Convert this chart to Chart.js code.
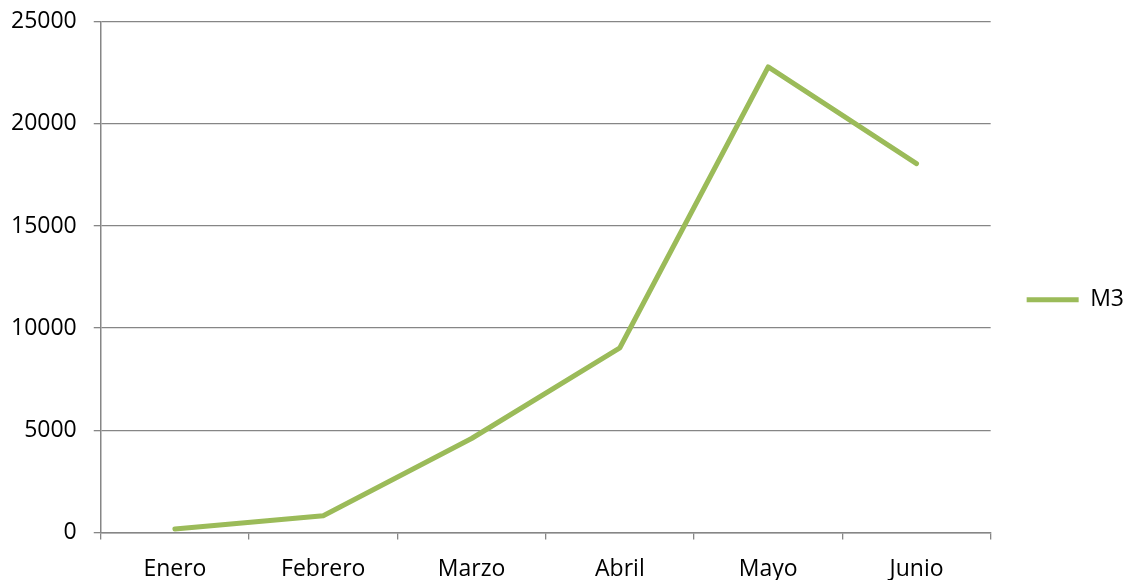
<!DOCTYPE html>
<html>
<head>
<meta charset="utf-8">
<script src="https://cdn.jsdelivr.net/npm/chart.js@4/dist/chart.umd.min.js"></script>
<style>
  html, body { margin: 0; padding: 0; background: #fff; }
  #caja { width: 1125px; height: 580px; }
</style>
</head>
<body>
<div id="caja"><canvas id="grafico"></canvas></div>
<script>
// datos
const meses = ['Enero', 'Febrero', 'Marzo', 'Abril', 'Mayo', 'Junio'];
const valoresM3 = [170, 820, 4600, 9040, 22780, 18050];
const marcasY = [0, 5000, 10000, 15000, 20000, 25000];

const gris = '#868686';
const letra = { family: 'Open Sans', size: 23, lineHeight: 1 };

new Chart(document.getElementById('grafico'), {
    type: 'line',
    data: {
        labels: meses,
        datasets: [{
            label: 'M3',
            data: valoresM3,
            borderColor: '#9BBB59',
            backgroundColor: '#9BBB59',
            borderWidth: 5,
            borderCapStyle: 'round',
            borderJoinStyle: 'round',
            pointRadius: 0,
            pointStyle: 'line',
            tension: 0
        }]
    },
    options: {
        responsive: true,
        maintainAspectRatio: false,
        animation: false,
        // el eje reserva el doble del padding de las etiquetas, se compensa aqui
        layout: { padding: { top: 1, right: -9, left: -6, bottom: -18.5 } },
        plugins: {
            tooltip: { enabled: false },
            legend: {
                position: 'right',
                labels: {
                    usePointStyle: true,
                    pointStyleWidth: 52,
                    boxHeight: 5,
                    padding: 36,
                    color: '#000',
                    font: letra
                }
            }
        },
        scales: {
            x: {
                offset: true,
                grid: {
                    offset: true,
                    drawOnChartArea: false,
                    color: gris,
                    lineWidth: 1.3,
                    tickLength: 7
                },
                border: { color: gris, width: 1.5 },
                ticks: {
                    color: '#000',
                    padding: 18,
                    font: letra,
                    maxRotation: 0
                }
            },
            y: {
                min: 0,
                max: 25000,
                afterBuildTicks: (eje) => {
                    eje.ticks = marcasY.map(v => ({ value: v }));
                },
                grid: { color: gris, lineWidth: 1.3, tickLength: 7 },
                border: { color: gris, width: 1.5 },
                ticks: {
                    color: '#000',
                    padding: 17,
                    font: { family: 'Open Sans', size: 23, lineHeight: 0.4 },
                    callback: (v) => String(v)
                }
            }
        }
    }
});
</script>
</body>
</html>
